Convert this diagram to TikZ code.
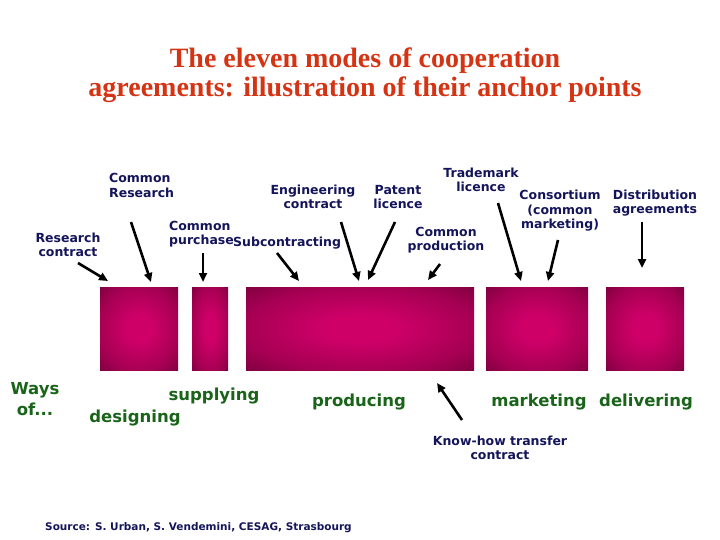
\documentclass[tikz,border=0pt]{standalone}
\usepackage{fontspec}
\setmainfont{DejaVu Sans}
\newfontfamily\titlefont{Liberation Serif}
\usetikzlibrary{arrows.meta}
\definecolor{titlered}{RGB}{212,52,20}
\definecolor{navy}{RGB}{20,20,90}
\definecolor{wgreen}{RGB}{25,100,25}
\definecolor{boxpink}{RGB}{206,0,104}
\definecolor{boxmid}{RGB}{165,0,82}
\definecolor{boxdark}{RGB}{112,0,56}
\pgfdeclareradialshading{boxshade}{\pgfpoint{0bp}{0bp}}{color(0bp)=(boxpink); color(8bp)=(boxpink); color(26bp)=(boxmid); color(40bp)=(boxdark); color(72bp)=(boxdark)}
\begin{document}
\begin{tikzpicture}[x=1pt,y=-1pt,
  lbl/.style={font=\fontsize{12.5}{14.5}\selectfont\bfseries, text=navy, align=center, inner sep=0pt},
  way/.style={font=\fontsize{16.5}{21}\selectfont\bfseries, text=wgreen, align=center, inner sep=0pt},
  arr/.style={line width=2.6pt, -{Triangle[length=9pt,width=8pt]}},
  mbox/.style={shading=boxshade, draw=none, inner sep=0pt, outer sep=0pt, anchor=north west, minimum height=83pt}]
\useasboundingbox (0,0) rectangle (720,540);

% title
\node[font=\titlefont\fontsize{28}{29}\selectfont\bfseries, text=titlered, align=center] (title) at (365,75)
  {The eleven modes of cooperation\\agreements: illustration of their anchor points};

% boxes
\node[mbox, minimum width=78pt] (b1) at (100,287) {};
\node[mbox, minimum width=36pt] (b2) at (192,287) {};
\node[mbox, minimum width=228pt] (b3) at (246,287) {};
\node[mbox, minimum width=102pt] (b4) at (486,287) {};
\node[mbox, minimum width=78pt] (b5) at (606,287) {};

% top labels
\node[lbl] (rescon) at (68,245) {Research\\contract};
\node[lbl, align=left, anchor=west] (comres) at (109,185.5) {Common\\Research};
\node[lbl, align=left, anchor=west] (compur) at (169,234) {Common\\purchase};
\node[lbl, anchor=west] (subc) at (233,243) {Subcontracting};
\node[lbl] (engc) at (313,197) {Engineering\\contract};
\node[lbl] (patent) at (398,197) {Patent\\licence};
\node[lbl] (comprod) at (446,240) {Common\\production};
\node[lbl] (trade) at (481,180) {Trademark\\licence};
\node[lbl] (consort) at (560,211) {Consortium\\(common\\marketing)};
\node[lbl] (distrib) at (655,203) {Distribution\\agreements};
\node[lbl] (knowhow) at (500,448) {Know-how transfer\\contract};

% arrow ends
\coordinate (t1) at (78,263);  \coordinate (h1) at (108,281);
\coordinate (t2) at (131,222); \coordinate (h2) at (151,282);
\coordinate (t3) at (203,253); \coordinate (h3) at (203,282);
\coordinate (t4) at (277,253); \coordinate (h4) at (299,281);
\coordinate (t5) at (341,222); \coordinate (h5) at (359,281);
\coordinate (t6) at (395,222); \coordinate (h6) at (368,280);
\coordinate (t7) at (440,264); \coordinate (h7) at (428,280);
\coordinate (t8) at (498,203); \coordinate (h8) at (521,281);
\coordinate (t9) at (558,240); \coordinate (h9) at (548,281);
\coordinate (t10) at (642,222); \coordinate (h10) at (642,268);
\coordinate (t11) at (462,420); \coordinate (h11) at (437,383);
\foreach \i in {1,...,11} \draw[arr] (t\i) -- (h\i);

% ways
\node[way] (ways) at (35,399) {Ways\\of...};
\node[way] (supp) at (214,396) {supplying};
\node[way] (desig) at (135,418) {designing};
\node[way] (prod) at (359,402) {producing};
\node[way] (mark) at (539,402) {marketing};
\node[way] (deliv) at (646,402) {delivering};

% source
\node[font=\fontsize{10.5}{12}\selectfont\bfseries, text=navy, anchor=west, inner sep=0pt] (src) at (45,528)
  {Source: S. Urban, S. Vendemini, CESAG, Strasbourg};
\end{tikzpicture}
\end{document}
